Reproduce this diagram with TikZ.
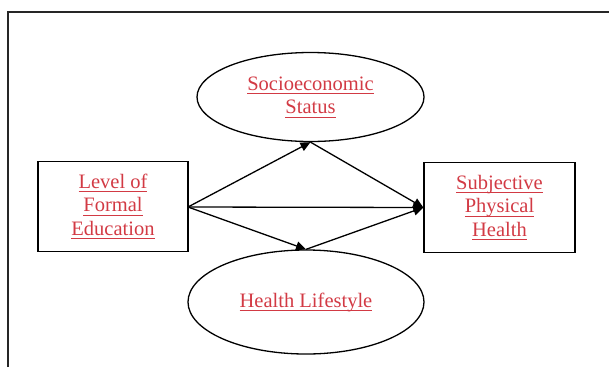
\documentclass[tikz,border=0pt]{standalone}
\usepackage{fontspec}
\setmainfont{Liberation Serif}
\usetikzlibrary{arrows.meta,shapes.geometric}
\definecolor{lbl}{HTML}{D23A44}
\newcommand\ulx[1]{\underline{\raisebox{0pt}[\height][2pt]{#1}}}
\tikzset{
  txt/.style={text=lbl,font=\fontsize{20.5}{23.5}\selectfont,align=center},
  boxnode/.style={draw,line width=1.3pt,minimum width=150pt,minimum height=90pt,txt},
  ell/.style={draw,ellipse,line width=1.3pt,txt,inner sep=0pt},
  conn/.style={line width=1.3pt,-{Triangle[length=10pt,width=9pt]}},
  frame/.style={line width=1.2pt,draw=black!85}
}
\begin{document}
\begin{tikzpicture}[x=1pt,y=-1pt]
\useasboundingbox (0,0) rectangle (609,367);
\coordinate (f1) at (8,367);
\coordinate (f2) at (8,12);
\coordinate (f3) at (609,12);
\draw[frame] (f1) -- (f2) -- (f3);
\node[boxnode] (edu) at (113,206.5) {\ulx{Level of}\\\ulx{Formal}\\\ulx{Education}};
\node[boxnode,minimum width=151pt] (sph) at (499.5,207.5) {\ulx{Subjective}\\\ulx{Physical}\\\ulx{Health}};
\node[ell,minimum width=227pt,minimum height=89pt] (ses) at (310.5,97) {\ulx{Socioeconomic}\\\ulx{Status}};
\node[ell,minimum width=236pt,minimum height=104pt] (hl) at (306,302) {\ulx{Health Lifestyle}};
\coordinate (eduR) at (188,207);
\draw[conn] (eduR) -- (ses.south);
\draw[conn] (eduR) -- (sph.west);
\draw[conn] (eduR) -- (hl.north);
\draw[conn] (ses.south) -- (sph.west);
\draw[conn] (hl.north) -- (sph.west);
\end{tikzpicture}
\end{document}
